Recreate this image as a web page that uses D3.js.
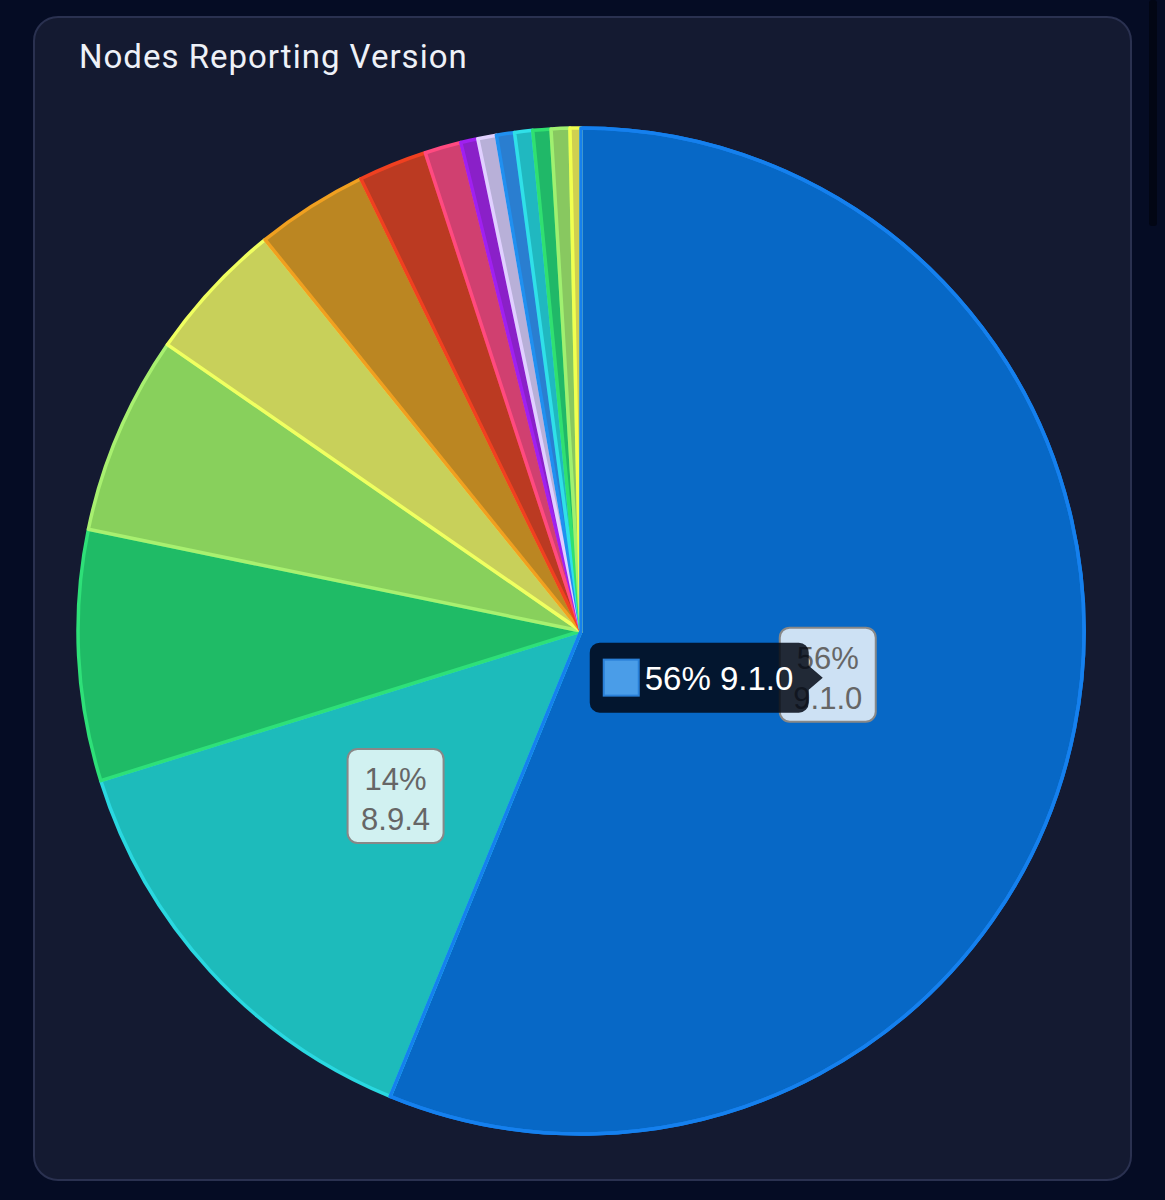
<!DOCTYPE html>
<html>
<head>
<meta charset="utf-8">
<title>Nodes Reporting Version</title>
<script src="https://d3js.org/d3.v7.min.js"></script>
<style>
  html, body { margin: 0; padding: 0; background: #050c24; }
  svg { display: block; }
</style>
</head>
<body>
<div id="chart"></div>
<script>
// versions reported by nodes, clockwise from 12 o'clock
var versions = ["9.1.0", "8.9.4", "8.9.3", "9.0.0", "8.9.2", "8.9.1", "8.9.0", "8.8.2",
                "8.8.1", "8.8.0", "8.7.0", "8.6.1", "8.5.0", "8.4.0", "8.3.0"];
// share of nodes (%)
var shares = [56.2, 14.0, 8.05, 6.4, 4.55, 3.6, 2.2, 1.17, 0.55, 0.6, 0.58, 0.58, 0.58, 0.6, 0.35];
var fills = ["#0768c6", "#1dbbbb", "#1fbb66", "#88d05c", "#c8d05a", "#bb8622", "#bb3a22", "#d04070",
             "#8a20c8", "#b8b0d8", "#2a7ed0", "#20b8c0", "#20b868", "#88c860", "#d0d050"];
var borders = ["#1580ee", "#2ad8e0", "#2ee078", "#a8f070", "#f0ff60", "#f0a020", "#f04020", "#ff4a80",
               "#a020f0", "#e0d0ff", "#2090f0", "#30e0e8", "#30e070", "#a0f070", "#f0ff50"];

var data = versions.map(function(v, i) { return {version: v, value: shares[i], i: i}; });
var total = d3.sum(shares);

var width = 1165, height = 1200;
var cx = 581, cy = 631, radius = 503;

var svg = d3.select("#chart").append("svg")
    .attr("width", width)
    .attr("height", height);

// page background + scrollbar strip
svg.append("rect").attr("width", width).attr("height", height).attr("fill", "#050c24");
svg.append("rect").attr("x", 1149).attr("y", 0).attr("width", 8).attr("height", 226)
    .attr("rx", 3).attr("fill", "#020614");

// card
svg.append("rect")
    .attr("x", 34).attr("y", 17)
    .attr("width", 1097).attr("height", 1163)
    .attr("rx", 24)
    .attr("fill", "#141a31")
    .attr("stroke", "#2a3150")
    .attr("stroke-width", 2);

svg.append("text")
    .attr("x", 79).attr("y", 68)
    .attr("fill", "#eef1f8")
    .attr("font-family", "Roboto, sans-serif")
    .attr("font-size", "33px")
    .attr("letter-spacing", "1px")
    .text("Nodes Reporting Version");

var pie = d3.pie().sort(null).value(d => d.value);
var arc = d3.arc().innerRadius(0).outerRadius(radius);
var arcs = pie(data);

var g = svg.append("g").attr("transform", "translate(" + cx + "," + cy + ")");

g.selectAll("path.slice")
    .data(arcs)
    .enter()
    .append("path")
    .attr("class", "slice")
    .attr("d", arc)
    .attr("fill", d => fills[d.data.i])
    .attr("stroke", d => borders[d.data.i])
    .attr("stroke-width", 3.5)
    .attr("stroke-linejoin", "round");

// the hovered slice is drawn on top
g.append("path")
    .datum(arcs[0])
    .attr("d", arc)
    .attr("fill", "none")
    .attr("stroke", borders[0])
    .attr("stroke-width", 3.5)
    .attr("stroke-linejoin", "round");

// labels on the big slices
var labelled = arcs.filter(d => d.data.value / total > 0.1);
var lab = g.selectAll("g.label")
    .data(labelled)
    .enter()
    .append("g")
    .attr("class", "label")
    .attr("transform", d => "translate(" + arc.centroid(d) + ")");

lab.append("rect")
    .attr("x", -48).attr("y", -52)
    .attr("width", 96).attr("height", 94)
    .attr("rx", 10)
    .attr("fill", "rgba(255,255,255,0.8)")
    .attr("stroke", "#888")
    .attr("stroke-width", 2);

lab.append("text")
    .attr("text-anchor", "middle")
    .attr("y", -11)
    .attr("fill", "#666")
    .attr("font-family", "'Liberation Sans', Arial, sans-serif")
    .attr("font-size", "31px")
    .text(d => Math.round(d.data.value) + "%");

lab.append("text")
    .attr("text-anchor", "middle")
    .attr("y", 29)
    .attr("fill", "#666")
    .attr("font-family", "'Liberation Sans', Arial, sans-serif")
    .attr("font-size", "31px")
    .text(d => d.data.version);

// tooltip for the active slice (caret points at its centroid)
var active = arcs[0];
var c = arc.centroid(active);
var tip = g.append("g")
    .attr("transform", "translate(" + (c[0] - 5) + "," + (c[1] - 2) + ")");

tip.append("path")
    .attr("d", "M-223,-35 h199 a10,10 0 0 1 10,10 v13 l14,12 l-14,12 v13 a10,10 0 0 1 -10,10 h-199 a10,10 0 0 1 -10,-10 v-50 a10,10 0 0 1 10,-10 z")
    .attr("fill", "rgba(2,8,20,0.85)");

tip.append("rect")
    .attr("x", -219).attr("y", -18)
    .attr("width", 35).attr("height", 36)
    .attr("fill", "#4a9de8")
    .attr("stroke", "#2a80d8")
    .attr("stroke-width", 2);

tip.append("text")
    .attr("x", -178).attr("y", 12)
    .attr("fill", "#ffffff")
    .attr("font-family", "'Liberation Sans', Arial, sans-serif")
    .attr("font-size", "33px")
    .text(Math.round(active.data.value) + "% " + active.data.version);
</script>
</body>
</html>
